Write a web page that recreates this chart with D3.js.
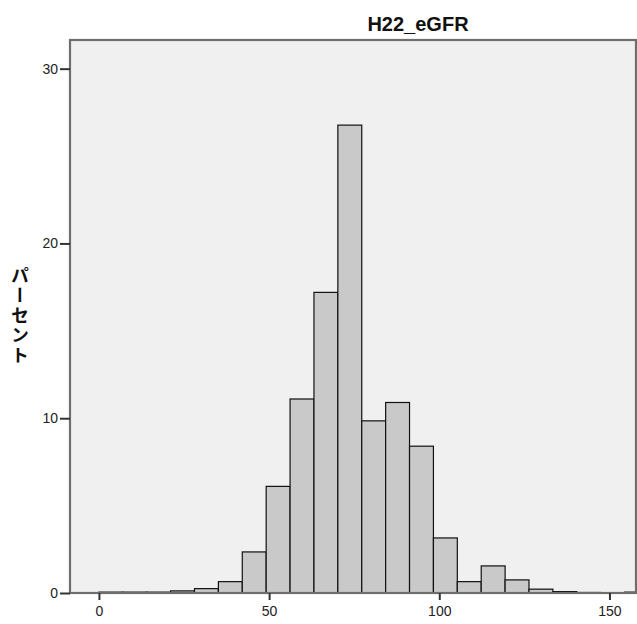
<!DOCTYPE html>
<html>
<head>
<meta charset="utf-8">
<script src="https://cdn.jsdelivr.net/npm/d3@7"></script>
<style>
  body { margin: 0; background: #fff; }
  #chart { position: relative; width: 637px; height: 624px; }
  svg { display: block; }
  .ylabel {
    position: absolute;
    writing-mode: vertical-rl;
    text-orientation: upright;
    font-family: 'Noto Sans CJK JP', sans-serif;
    font-weight: bold;
    font-size: 18px;
    line-height: 1;
    color: #111;
    letter-spacing: 2px;
  }
</style>
</head>
<body>
<div id="chart"></div>
<script>
// Histogram of H22_eGFR, bins of ~7.02 units starting at 0
const binStarts = [0, 7.02, 14.04, 21.06, 28.08, 35.1, 42.12, 49.14, 56.16, 63.18,
                   70.2, 77.22, 84.24, 91.26, 98.28, 105.3, 112.32, 119.34, 126.36,
                   133.38, 140.4, 147.42, 154.44];
const binWidth = 7.02;
const percents = [0.05, 0.05, 0.05, 0.12, 0.25, 0.65, 2.35, 6.1, 11.1, 17.2,
                  26.77, 9.85, 10.9, 8.4, 3.15, 0.65, 1.55, 0.75, 0.22,
                  0.08, 0.03, 0, 0.05];
const xTicks = [0, 50, 100, 150];
const yTicks = [0, 10, 20, 30];
const title = "H22_eGFR";
const yLabel = "パーセント";

const width = 637, height = 624;
const plotLeft = 70, plotRight = 636, plotTop = 40, plotBottom = 593;

const x = d3.scaleLinear().domain([-8.5, 157.8]).range([plotLeft, plotRight]);
const y = d3.scaleLinear().domain([0, 31.64]).range([plotBottom, plotTop]);

const svg = d3.select("#chart").append("svg")
    .attr("width", width)
    .attr("height", height)
    .style("font-family", "'Liberation Sans', Arial, sans-serif");

svg.append("defs").append("clipPath").attr("id", "plotclip")
  .append("rect")
    .attr("x", plotLeft).attr("y", plotTop)
    .attr("width", plotRight - plotLeft).attr("height", plotBottom - plotTop);

// plot background
svg.append("rect")
    .attr("x", plotLeft).attr("y", plotTop)
    .attr("width", plotRight - plotLeft).attr("height", plotBottom - plotTop)
    .attr("fill", "#f0f0f0");

// bars
svg.append("g")
    .attr("clip-path", "url(#plotclip)")
  .selectAll("rect")
  .data(percents.map((p, i) => ({x0: binStarts[i], x1: binStarts[i] + binWidth, p})))
  .enter().append("rect")
    .attr("x", d => x(d.x0))
    .attr("y", d => y(d.p))
    .attr("width", d => x(d.x1) - x(d.x0))
    .attr("height", d => y(0) - y(d.p))
    .attr("fill", "#c9c9c9")
    .attr("stroke", "#111")
    .attr("stroke-width", 1.2);

// frame
svg.append("rect")
    .attr("x", plotLeft).attr("y", plotTop)
    .attr("width", plotRight - plotLeft).attr("height", plotBottom - plotTop)
    .attr("fill", "none")
    .attr("stroke", "#6e6e6e")
    .attr("stroke-width", 2.2);

// y axis
const yAxis = svg.append("g")
    .attr("transform", `translate(${plotLeft},0)`)
    .call(d3.axisLeft(y).tickValues(yTicks).tickSize(10).tickPadding(2));
yAxis.select(".domain").remove();
yAxis.selectAll(".tick line").attr("stroke", "#333").attr("stroke-width", 2);
yAxis.selectAll(".tick text")
    .attr("fill", "#222")
    .style("font-size", "14px")
    .style("font-family", "'Liberation Sans', Arial, sans-serif");

// x axis
const xAxis = svg.append("g")
    .attr("transform", `translate(0,${plotBottom})`)
    .call(d3.axisBottom(x).tickValues(xTicks).tickSize(7).tickPadding(6));
xAxis.select(".domain").remove();
xAxis.selectAll(".tick line").attr("stroke", "#333").attr("stroke-width", 2);
xAxis.selectAll(".tick text")
    .attr("fill", "#222")
    .style("font-size", "14px")
    .style("font-family", "'Liberation Sans', Arial, sans-serif");

// title
svg.append("text")
    .attr("x", 418)
    .attr("y", 31)
    .attr("text-anchor", "middle")
    .attr("fill", "#111")
    .style("font-size", "20px")
    .style("font-weight", "bold")
    .text(title);

// vertical y label, stacked upright characters
d3.select("#chart").append("div")
    .attr("class", "ylabel")
    .style("left", "11px")
    .style("top", "266px")
    .text(yLabel);
</script>
</body>
</html>
